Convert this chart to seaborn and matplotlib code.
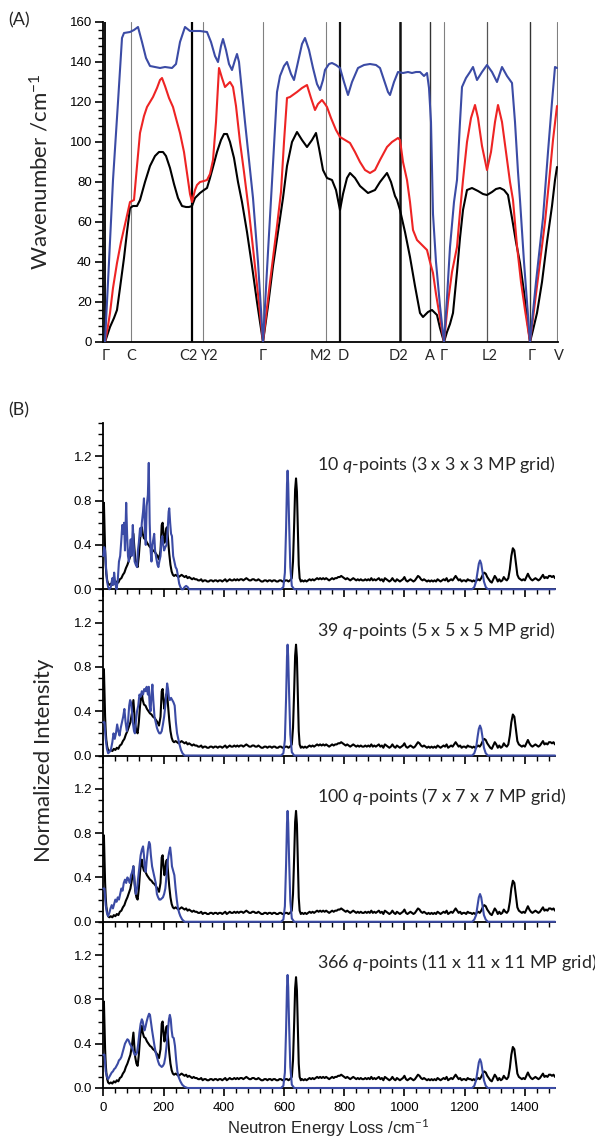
import numpy as np
import pandas as pd
import matplotlib
matplotlib.use("Agg")
import matplotlib.pyplot as plt
from matplotlib.ticker import MultipleLocator, FixedLocator
from matplotlib.transforms import ScaledTranslation
import seaborn as sns

# ---------------- data : panel (A) phonon dispersion ----------------
kpoint_labels = ["Γ", "C", "C2", "Y2", "Γ", "M2", "D", "D2", "A", "Γ", "L2", "Γ", "V"]
kpoint_pos = [0, 26, 87, 98, 158, 221, 235, 295, 325, 339, 382, 425, 452]

band_black_x = [0, 2, 5, 9, 12, 15, 19, 22, 25, 28, 32, 35, 40, 45, 50, 54, 58, 61, 65, 69,
                73, 77, 81, 84, 87, 90, 95, 99, 102, 105, 108, 112, 116, 119, 122, 125, 129, 133, 137, 142,
                147, 152, 158,
                163, 168, 173, 178, 182, 187, 192, 197, 202, 207, 211, 214, 218, 222, 227, 231, 235, 238, 242, 245,
                250, 255, 263, 270, 275, 282, 286, 290, 292, 295, 300, 305, 310, 315, 318, 323, 327, 330, 332, 335,
                339,
                342, 345, 348, 352, 355, 358, 362, 367, 373, 378, 382, 387, 391, 395, 399, 403, 407, 411, 415, 419,
                422, 425,
                428, 432, 437, 442, 447, 450, 452]
band_black_y = [0, 3, 7.5, 12, 16, 27, 42, 55, 67, 68, 68, 71, 80, 88, 93, 95, 95, 93, 87, 79,
                72, 68, 67.5, 67.5, 68, 72, 74.5, 76, 77, 82, 87.5, 95, 101, 104, 104, 100, 92, 80, 70, 55,
                38, 20, 0,
                18, 38, 55, 72, 88, 100, 105, 101, 97.5, 101, 104.5, 97, 86, 82, 81, 76, 66, 74, 82, 84.5,
                82, 78, 74.5, 76, 80, 84.5, 80, 73, 71, 66, 55, 42.5, 28, 14.5, 12.5, 15, 16, 14.5, 13.5, 7,
                0,
                5, 9, 14.5, 35, 52, 66, 76, 77, 75.5, 74, 73.5, 75, 76.5, 77, 76, 73.5, 62, 50, 39.5, 25,
                12, 0,
                6, 14.5, 30, 50, 68, 81, 87.5]

band_red_x = [0, 3, 5, 8, 12, 16, 21, 25, 29, 32, 35, 39, 42, 45, 48, 52, 55, 57, 60, 64,
              68, 72, 75, 79, 82, 85, 87, 90, 92, 95, 99, 102, 105, 108, 111, 114, 117, 120, 123, 125,
              128, 131, 135, 139, 144, 148, 153, 158,
              165, 172, 176, 179, 182, 185, 192, 197, 202, 206, 210, 213, 217, 220, 222, 226, 231, 235, 240, 245,
              250, 255, 260, 265, 270, 275, 282, 287, 293, 295, 298, 302, 305, 308, 312, 315, 319, 322, 325, 328,
              331, 335, 339,
              343, 347, 352, 355, 358, 362, 366, 370, 373, 377, 382, 386, 390, 393, 397, 401, 405, 408, 412, 416,
              420, 425,
              430, 435, 440, 444, 448, 452]
band_red_y = [0, 8, 14.5, 27, 39.5, 50, 61, 70, 71, 88, 104.5, 113, 117.5, 120, 122.5, 127, 131, 132, 128, 122,
              117.5, 110, 104.5, 95, 84.5, 74, 70, 76, 78.5, 80, 80.5, 81, 84, 91, 110, 137, 132, 127.5, 129, 130,
              127.5, 118, 100, 85, 65, 47, 24, 0,
              30, 58, 75, 100, 122, 122.5, 125, 127, 128.5, 122, 116, 119, 121, 119, 117.5, 112, 106, 102.5, 101, 99.5,
              95, 90, 86, 84.5, 86, 91, 97.5, 100, 102, 101, 90, 81, 70, 56, 51, 49.5, 47.5, 46, 40, 34.5,
              24, 12, 0,
              20, 35, 47.5, 65, 81, 100, 112, 118.5, 112, 98, 86, 95, 110, 118.5, 110, 95, 80, 71, 48, 30,
              16, 0,
              20, 40, 60, 80, 101, 118]

band_blue_x = [0, 4, 8, 13, 17, 19, 25, 29, 33, 37, 41, 45, 55, 60, 67, 71, 75, 80, 85, 95,
               102, 106, 110, 113, 116, 118, 121, 124, 127, 130, 132, 134, 140, 148, 153, 158,
               163, 167, 172, 175, 179, 182, 186, 189, 193, 197, 200, 204, 208, 212, 215, 218, 220, 224, 227, 231,
               235, 239, 243, 247, 253, 259, 265, 271, 275, 279, 283, 285, 289, 293, 298, 303, 307, 311, 315, 319,
               322, 324, 326, 328, 331, 335, 339,
               342, 345, 349, 352, 355, 357, 361, 365, 368, 372, 377, 382, 387, 392, 397, 402, 407, 410, 413, 415,
               419, 422, 425,
               431, 438, 443, 447, 450, 452]
band_blue_y = [0, 40, 81, 120, 152, 154.5, 155, 156, 157.5, 150, 142, 138, 137, 137.5, 137, 139, 150, 157.5, 155.5, 155.5,
               155, 150, 143, 140, 148, 151.5, 146, 139, 136, 141, 144, 140, 110, 72, 40, 0,
               45, 80, 125, 133, 138, 140, 134, 131, 140, 149, 152, 146, 137, 129, 126, 131, 136, 139, 139.5, 138.5,
               137, 130, 123.5, 130, 137, 138.5, 139, 138.5, 137, 131, 125, 123.5, 130, 135, 134.5, 135, 134.5, 135, 135, 133,
               134.5, 127, 110, 64, 40, 18, 0,
               22, 47.5, 70, 81, 110, 127.5, 132, 135, 137.5, 131, 135, 138.5, 135, 130, 137.5, 133, 129.5, 110, 85, 71,
               40, 20, 0,
               30, 62, 95, 120, 137.5, 137]

# ---------------- data : panel (B) INS spectra ----------------
ins_x = [0, 2, 4, 6, 8, 10, 13, 16, 20, 25, 30, 35, 40, 45, 50, 55, 60, 65, 70, 75,
         80, 85, 90, 95, 98, 100, 103, 106, 110, 114, 118, 122, 125, 128, 131, 135, 140, 145, 150, 155,
         160, 165, 170, 175, 180, 185, 190, 194, 197, 200, 203, 206, 209, 212, 215, 219, 223, 227, 231, 235,
         240, 245, 250, 255, 260, 265, 270, 275, 280, 285, 290, 295, 300, 305, 310, 315, 320, 325, 330, 335,
         340, 345, 350, 355, 360, 365, 370, 375, 380, 385, 390, 395, 400, 405, 410, 415, 420, 425, 430, 435,
         440, 445, 450, 455, 460, 465, 470, 475, 480, 485, 490, 495, 500, 505, 510, 515, 520, 525, 530, 535,
         540, 545, 550, 555, 560, 565, 570, 575, 580, 585, 590, 595, 600, 605, 610, 615, 620,
         626, 630, 634, 637, 640, 643, 646, 649, 652, 656,
         660, 665, 670, 675, 680, 685, 690, 695, 700, 705, 710, 715, 720, 725, 730, 735, 740, 745, 750, 755,
         760, 765, 770, 775, 780, 785, 790, 795, 800, 805, 810, 815, 820, 825, 830, 835, 840, 845, 850, 855,
         860, 865, 870, 875, 880, 885, 890, 895, 900, 905, 910, 915, 920, 925, 930, 935, 940, 945, 950, 955,
         960, 965, 970, 975, 980, 985, 990, 995, 1000, 1005, 1010, 1015, 1020, 1025, 1030, 1035, 1040, 1045, 1050, 1055,
         1060, 1065, 1070, 1075, 1080, 1085, 1090, 1095, 1100, 1105, 1110, 1115, 1120, 1125, 1130, 1135, 1140, 1145, 1150, 1155,
         1160, 1165, 1170, 1175, 1180, 1185, 1190, 1195, 1200, 1205, 1210, 1215, 1220, 1225, 1230, 1235, 1240, 1245, 1250, 1255,
         1260, 1265, 1270, 1275, 1280, 1285, 1290, 1295, 1300, 1305, 1310, 1315, 1320, 1325, 1330, 1335, 1340, 1345, 1350, 1355,
         1360, 1365, 1370, 1375, 1380, 1385, 1390, 1395, 1400, 1405, 1410, 1415, 1420, 1425, 1430, 1435, 1440, 1445, 1450, 1455,
         1460, 1465, 1470, 1475, 1480, 1485, 1490, 1495, 1500]
ins_y = [0.60, 0.78, 0.55, 0.35, 0.22, 0.14, 0.08, 0.05, 0.04, 0.05, 0.04, 0.06, 0.05, 0.07, 0.06, 0.09, 0.10, 0.13, 0.15, 0.19,
         0.22, 0.26, 0.30, 0.38, 0.45, 0.50, 0.38, 0.28, 0.22, 0.20, 0.30, 0.45, 0.52, 0.56, 0.50, 0.46, 0.45, 0.42, 0.40, 0.38,
         0.37, 0.35, 0.34, 0.32, 0.30, 0.27, 0.35, 0.58, 0.60, 0.50, 0.42, 0.48, 0.55, 0.56, 0.45, 0.32, 0.22, 0.16, 0.13, 0.12,
         0.13, 0.12, 0.11, 0.12, 0.13, 0.12, 0.11, 0.12, 0.10, 0.11, 0.10, 0.09, 0.10, 0.09, 0.09, 0.08, 0.08, 0.09, 0.07, 0.08,
         0.08, 0.07, 0.07, 0.08, 0.08, 0.07, 0.08, 0.08, 0.07, 0.08, 0.08, 0.07, 0.08, 0.09, 0.07, 0.08, 0.09, 0.08, 0.08, 0.09,
         0.08, 0.09, 0.08, 0.09, 0.09, 0.08, 0.09, 0.10, 0.09, 0.08, 0.08, 0.09, 0.09, 0.08, 0.08, 0.09, 0.08, 0.07, 0.07, 0.08,
         0.08, 0.07, 0.08, 0.08, 0.07, 0.08, 0.08, 0.07, 0.07, 0.08, 0.08, 0.07, 0.07, 0.08, 0.08, 0.07, 0.08,
         0.10, 0.25, 0.60, 0.90, 1.00, 0.88, 0.55, 0.22, 0.10, 0.07,
         0.08, 0.07, 0.08, 0.07, 0.08, 0.09, 0.08, 0.09, 0.08, 0.09, 0.10, 0.09, 0.10, 0.09, 0.10, 0.09, 0.10, 0.09, 0.08, 0.09,
         0.10, 0.09, 0.10, 0.10, 0.11, 0.11, 0.12, 0.11, 0.10, 0.09, 0.10, 0.09, 0.08, 0.09, 0.10, 0.09, 0.08, 0.09, 0.08, 0.09,
         0.08, 0.08, 0.09, 0.08, 0.09, 0.08, 0.10, 0.08, 0.09, 0.08, 0.09, 0.10, 0.08, 0.09, 0.07, 0.10, 0.09, 0.08, 0.07, 0.08,
         0.10, 0.08, 0.07, 0.09, 0.08, 0.07, 0.08, 0.09, 0.11, 0.08, 0.07, 0.08, 0.09, 0.08, 0.07, 0.08, 0.10, 0.12, 0.11, 0.09,
         0.08, 0.09, 0.08, 0.07, 0.08, 0.07, 0.08, 0.07, 0.08, 0.07, 0.09, 0.08, 0.07, 0.08, 0.09, 0.08, 0.10, 0.07, 0.08, 0.09,
         0.08, 0.10, 0.12, 0.10, 0.08, 0.09, 0.07, 0.08, 0.08, 0.07, 0.09, 0.08, 0.08, 0.07, 0.08, 0.07, 0.08, 0.09, 0.08, 0.10,
         0.13, 0.15, 0.14, 0.11, 0.09, 0.07, 0.06, 0.09, 0.12, 0.10, 0.07, 0.09, 0.07, 0.08, 0.11, 0.09, 0.08, 0.10, 0.18, 0.30,
         0.37, 0.35, 0.24, 0.13, 0.10, 0.09, 0.08, 0.09, 0.08, 0.11, 0.14, 0.11, 0.09, 0.08, 0.09, 0.10, 0.09, 0.08, 0.09, 0.11,
         0.13, 0.10, 0.11, 0.10, 0.12, 0.12, 0.11, 0.12, 0.10]

calc10_low_x = [0, 3, 6, 9, 12, 16, 20, 25, 30, 33, 36, 40, 44, 48, 52, 56, 60, 63, 66, 69,
                72, 76, 79, 82, 85, 88, 91, 94, 98, 101, 104, 108, 112, 115, 118, 122, 125, 128, 132, 135,
                138, 141, 144, 148, 151, 154, 157, 160, 163, 166, 169, 172, 176, 180, 183, 186, 190, 193, 196, 199,
                202, 206, 210, 214, 217, 219, 222, 225, 228, 232, 236, 240, 244, 248, 252, 256, 260, 265, 270, 275,
                280, 285]
calc10_low_y = [0.30, 0.38, 0.35, 0.20, 0.08, 0.02, 0.00, 0.02, 0.10, 0.04, 0.15, 0.05, 0.00, 0.08, 0.25, 0.30, 0.45, 0.58, 0.50, 0.60,
                0.35, 0.78, 0.50, 0.30, 0.25, 0.35, 0.45, 0.30, 0.58, 0.40, 0.25, 0.22, 0.20, 0.35, 0.42, 0.55, 0.48, 0.60, 0.70, 0.82,
                0.55, 0.40, 0.75, 0.85, 1.14, 0.60, 0.35, 0.25, 0.40, 0.45, 0.50, 0.35, 0.28, 0.22, 0.20, 0.25, 0.30, 0.45, 0.48, 0.40,
                0.35, 0.38, 0.40, 0.55, 0.70, 0.73, 0.60, 0.50, 0.48, 0.30, 0.25, 0.20, 0.18, 0.12, 0.05, 0.02, 0.00, 0.00, 0.02, 0.03,
                0.02, 0.00]

calc39_low_x = [0, 4, 8, 12, 16, 20, 25, 30, 34, 38, 42, 46, 50, 54, 58, 62, 66, 70, 74, 78,
                82, 86, 89, 92, 95, 98, 102, 105, 108, 112, 116, 120, 124, 128, 132, 136, 140, 144, 148, 151,
                154, 157, 160, 163, 166, 170, 174, 178, 182, 186, 190, 194, 198, 202, 206, 209, 212, 215, 218, 221,
                225, 229, 233, 237, 241, 245, 249, 253, 258, 263, 270]
calc39_low_y = [0.30, 0.30, 0.15, 0.06, 0.02, 0.03, 0.05, 0.12, 0.20, 0.15, 0.20, 0.28, 0.22, 0.18, 0.25, 0.30, 0.35, 0.42, 0.30, 0.22,
                0.30, 0.45, 0.50, 0.48, 0.40, 0.30, 0.22, 0.20, 0.30, 0.40, 0.45, 0.55, 0.53, 0.58, 0.55, 0.60, 0.58, 0.62, 0.55, 0.62,
                0.45, 0.40, 0.55, 0.64, 0.50, 0.35, 0.30, 0.25, 0.22, 0.20, 0.20, 0.22, 0.28, 0.35, 0.45, 0.55, 0.65, 0.60, 0.52, 0.50,
                0.52, 0.50, 0.48, 0.45, 0.30, 0.20, 0.15, 0.10, 0.05, 0.02, 0.00]

calc100_low_x = [0, 4, 8, 12, 16, 20, 24, 28, 32, 36, 40, 44, 48, 52, 56, 60, 64, 68, 72, 76,
                 80, 84, 88, 92, 96, 100, 104, 108, 112, 116, 120, 124, 128, 132, 135, 138, 141, 144, 148, 152,
                 155, 158, 162, 166, 170, 174, 178, 182, 186, 190, 194, 198, 202, 206, 210, 214, 218, 222, 225, 228,
                 232, 236, 240, 244, 248, 252, 256, 262, 270]
calc100_low_y = [0.30, 0.30, 0.15, 0.08, 0.05, 0.08, 0.12, 0.15, 0.12, 0.16, 0.20, 0.18, 0.22, 0.20, 0.25, 0.30, 0.28, 0.35, 0.38, 0.35,
                 0.40, 0.38, 0.35, 0.42, 0.45, 0.50, 0.35, 0.25, 0.30, 0.40, 0.50, 0.60, 0.65, 0.68, 0.60, 0.48, 0.45, 0.55, 0.65, 0.72,
                 0.70, 0.60, 0.50, 0.45, 0.40, 0.35, 0.25, 0.22, 0.20, 0.20, 0.21, 0.22, 0.25, 0.30, 0.42, 0.55, 0.62, 0.67, 0.60, 0.50,
                 0.46, 0.42, 0.30, 0.20, 0.12, 0.08, 0.05, 0.02, 0.00]

calc366_low_x = [0, 4, 8, 12, 16, 20, 24, 28, 32, 36, 40, 44, 48, 52, 56, 60, 64, 68, 72, 76,
                 80, 84, 88, 92, 96, 100, 104, 108, 112, 116, 120, 124, 128, 131, 134, 137, 140, 144, 148, 152,
                 155, 158, 162, 166, 170, 174, 178, 182, 186, 190, 194, 198, 202, 206, 210, 214, 218, 221, 224, 227,
                 230, 234, 238, 242, 246, 250, 256, 262, 270, 280]
calc366_low_y = [0.30, 0.30, 0.15, 0.10, 0.08, 0.10, 0.12, 0.14, 0.15, 0.17, 0.18, 0.20, 0.22, 0.25, 0.26, 0.28, 0.32, 0.36, 0.40, 0.42,
                 0.44, 0.43, 0.40, 0.38, 0.36, 0.33, 0.30, 0.30, 0.32, 0.40, 0.50, 0.58, 0.62, 0.60, 0.55, 0.52, 0.55, 0.60, 0.64, 0.67,
                 0.66, 0.60, 0.52, 0.45, 0.38, 0.32, 0.28, 0.24, 0.21, 0.20, 0.19, 0.20, 0.22, 0.28, 0.38, 0.50, 0.62, 0.66, 0.62, 0.52,
                 0.46, 0.45, 0.38, 0.25, 0.15, 0.10, 0.06, 0.03, 0.01, 0.00]

calc_high_x = [300, 590, 598, 603, 607, 610, 612, 614, 617, 621, 626, 634,
               1225, 1232, 1238, 1243, 1247, 1251, 1255, 1259, 1264, 1270, 1277, 1500]
calc10_high_y = [0, 0, 0.02, 0.15, 0.55, 0.95, 1.07, 0.95, 0.60, 0.20, 0.03, 0,
                 0, 0.02, 0.07, 0.16, 0.23, 0.26, 0.23, 0.16, 0.07, 0.02, 0, 0]
calc39_high_y = [0, 0, 0.02, 0.14, 0.52, 0.89, 1.00, 0.89, 0.56, 0.19, 0.03, 0,
                 0, 0.02, 0.07, 0.17, 0.24, 0.27, 0.24, 0.17, 0.07, 0.02, 0, 0]
calc100_high_y = [0, 0, 0.02, 0.14, 0.52, 0.89, 1.00, 0.89, 0.56, 0.19, 0.03, 0,
                  0, 0.02, 0.06, 0.15, 0.22, 0.25, 0.22, 0.15, 0.06, 0.02, 0, 0]
calc366_high_y = [0, 0, 0.02, 0.14, 0.53, 0.91, 1.02, 0.91, 0.57, 0.19, 0.03, 0,
                  0, 0.02, 0.07, 0.16, 0.23, 0.26, 0.23, 0.16, 0.07, 0.02, 0, 0]

qpoint_counts = ["10", "39", "100", "366"]
mp_grids = ["3 x 3 x 3", "5 x 5 x 5", "7 x 7 x 7", "11 x 11 x 11"]

# ---------------- style ----------------
sns.set_style("ticks")
plt.rcParams.update({
    "font.family": ["Lato", "DejaVu Sans"],
    "mathtext.fontset": "custom",
    "mathtext.rm": "Lato",
    "mathtext.it": "Lato:italic",
    "mathtext.bf": "Lato:bold",
    "axes.linewidth": 1.3,
    "axes.edgecolor": "black",
    "xtick.color": "black",
    "ytick.color": "black",
})

BLUE = "#3b4ba5"
RED = "#ee2424"
BLACK = "#000000"
W, H = 595, 1142


def rect(l, t, r, b):
    return [l / W, 1 - b / H, (r - l) / W, (b - t) / H]


fig = plt.figure(figsize=(W / 100, H / 100), dpi=100)

# ---------------- panel A ----------------
axA = fig.add_axes(rect(103, 22, 558, 342))
kline_style = [("#000000", 1.3), ("#808080", 0.8), ("#000000", 1.6), ("#808080", 0.8),
               ("#808080", 0.8), ("#808080", 0.8), ("#111111", 1.6), ("#111111", 1.8),
               ("#333333", 1.0), ("#808080", 0.8), ("#555555", 0.9), ("#333333", 1.0),
               ("#808080", 0.8)]
for pos, (col, lw) in zip(kpoint_pos, kline_style):
    axA.axvline(pos, color=col, lw=lw, zorder=1)

for bx, by, col in [(band_black_x, band_black_y, BLACK),
                    (band_red_x, band_red_y, RED),
                    (band_blue_x, band_blue_y, BLUE)]:
    df = pd.DataFrame({"k": bx, "w": by})
    sns.lineplot(data=df, x="k", y="w", ax=axA, color=col, lw=1.5,
                 estimator=None, sort=False, legend=False, zorder=3)

axA.set_xlim(-2, 453)
axA.set_ylim(0, 160)
axA.set_xticks([])
axA.yaxis.set_major_locator(FixedLocator(list(range(0, 161, 20))))
axA.yaxis.set_minor_locator(MultipleLocator(4))
axA.tick_params(axis="y", which="major", length=6, width=1.2, pad=2, labelsize=9.5,
                labelfontfamily="Liberation Sans")
axA.tick_params(axis="y", which="minor", length=3.5, width=1.0)
axA.set_xlabel("")
axA.set_ylabel("")
for s in ["top", "right"]:
    axA.spines[s].set_visible(False)

label_dx = [1, 0, -4, 7, 0, -5, 3, -2, 0, 0, 3, 2, 2]
for pos, lab, dx in zip(kpoint_pos, kpoint_labels, label_dx):
    tr = axA.get_xaxis_transform() + ScaledTranslation(dx / 100, -7 / 100, fig.dpi_scale_trans)
    axA.text(pos, 0, lab, transform=tr, ha="center", va="top", fontsize=10.5,
             family=["Lato", "Liberation Sans", "DejaVu Sans"])

fig.text(40 / W, 1 - 172 / H, "Wavenumber /cm$^{-1}$", rotation=90, ha="center", va="center", fontsize=16)
fig.text(8 / W, 1 - 20 / H, "(A)", ha="left", va="center", fontsize=13)

# ---------------- panel B ----------------
lows = [(calc10_low_x, calc10_low_y, calc10_high_y),
        (calc39_low_x, calc39_low_y, calc39_high_y),
        (calc100_low_x, calc100_low_y, calc100_high_y),
        (calc366_low_x, calc366_low_y, calc366_high_y)]
ins_df = pd.DataFrame({"E": ins_x, "I": ins_y})
step = 166.25
for i, (lx, ly, hy) in enumerate(lows):
    top = 423 + i * step
    ax = fig.add_axes(rect(103.3, top, 555, top + step))
    calc_df = pd.DataFrame({"E": list(lx) + calc_high_x, "I": list(ly) + hy})
    sns.lineplot(data=ins_df, x="E", y="I", ax=ax, color=BLACK, lw=1.5,
                 estimator=None, sort=False, legend=False, zorder=3)
    sns.lineplot(data=calc_df, x="E", y="I", ax=ax, color=BLUE, lw=1.5,
                 estimator=None, sort=False, legend=False, zorder=4, clip_on=False)
    ax.set_xlim(0, 1500)
    ax.set_ylim(0, 1.5)
    ax.set_yticks([0, 0.4, 0.8, 1.2])
    ax.set_yticklabels(["0.0", "0.4", "0.8", "1.2"])
    ax.yaxis.set_minor_locator(MultipleLocator(0.1))
    ax.xaxis.set_major_locator(MultipleLocator(200))
    ax.xaxis.set_minor_locator(MultipleLocator(40))
    ax.tick_params(which="major", length=6, width=1.2, pad=2, labelsize=9.5,
                   labelfontfamily="Liberation Sans")
    ax.tick_params(which="minor", length=3.5, width=1.0)
    ax.tick_params(axis="x", which="major", pad=4)
    if i < 3:
        ax.tick_params(axis="x", labelbottom=False)
    ax.set_xlabel("")
    ax.set_ylabel("")
    for s in ["top", "right"]:
        ax.spines[s].set_visible(False)
    ax.patch.set_alpha(0)
    ax.text(709, 1.13, f"{qpoint_counts[i]} $q$-points ({mp_grids[i]} MP grid)",
            ha="left", va="center", fontsize=12.9)

fig.text(8 / W, 1 - 410 / H, "(B)", ha="left", va="center", fontsize=13)
fig.text(44 / W, 1 - 760 / H, "Normalized Intensity", rotation=90, ha="center", va="center", fontsize=16)
fig.text(328 / W, 1 - 1128 / H, "Neutron Energy Loss /cm$^{-1}$", ha="center", va="center", fontsize=12,
         family=["Liberation Sans", "DejaVu Sans"])

fig.savefig("out.png", dpi=100)
